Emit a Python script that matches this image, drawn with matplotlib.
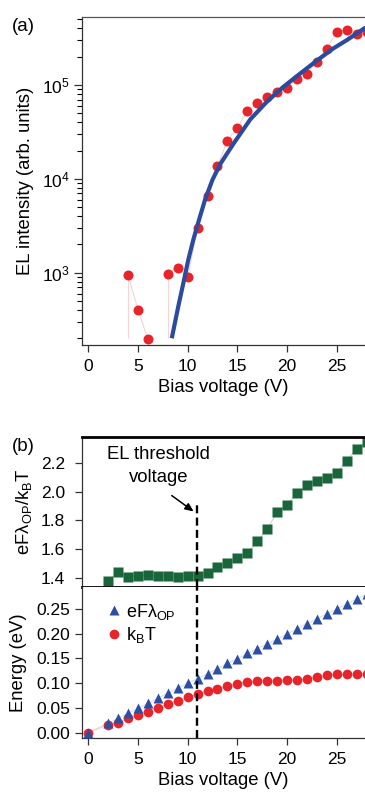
import matplotlib
matplotlib.use("Agg")
import matplotlib.pyplot as plt
import numpy as np

plt.rcParams["font.family"] = ["Liberation Sans", "DejaVu Sans"]
plt.rcParams["mathtext.fontset"] = "custom"
plt.rcParams["mathtext.rm"] = "Liberation Sans"
plt.rcParams["mathtext.it"] = "Liberation Sans:italic"
plt.rcParams["axes.linewidth"] = 0.9
plt.rcParams["axes.edgecolor"] = "#333333"

# ---- panel (a): EL intensity vs bias (NaN = no positive signal)
volt_a = [3, 4, 5, 6, 7, 8, 9, 10, 11, 12, 13, 14, 15, 16, 17, 18, 19, 20,
          21, 22, 23, 24, 25, 26, 27, 28]
el_int = [np.nan, 950, 405, 195, np.nan, 980, 1130, 890, 3000, 6600, 13700,
          25600, 34700, 52700, 64100, 73800, 83500, 93600, 117000, 132000,
          175000, 244000, 371000, 387000, 352000, 369000]
fit_v = [8.4, 9.05, 9.56, 10.06, 10.56, 11.14, 11.74, 12.5, 13.3, 14.6,
         16.3, 17.95, 19.6, 21.3, 23.0, 24.65, 26.0, 27.9]
fit_el = [200, 435, 770, 1370, 2230, 3650, 5960, 9800, 14500, 23600,
          43000, 66000, 95000, 132000, 182000, 245000, 300000, 410000]

# ---- panel (b)
volt_b = [0, 2, 3, 4, 5, 6, 7, 8, 9, 10, 11, 12, 13, 14, 15, 16, 17, 18, 19,
          20, 21, 22, 23, 24, 25, 26, 27, 28]
e_field = [0.0, 0.019, 0.029, 0.039, 0.049, 0.059, 0.0696, 0.0798, 0.0899,
           0.100, 0.109, 0.119, 0.1296, 0.140, 0.149, 0.160, 0.170, 0.179,
           0.189, 0.199, 0.210, 0.220, 0.230, 0.240, 0.250, 0.260, 0.270, 0.280]
k_t = [0.0, 0.0156, 0.020, 0.029, 0.036, 0.0425, 0.0506, 0.058, 0.065,
       0.0716, 0.078, 0.085, 0.089, 0.0945, 0.0985, 0.1026, 0.1046, 0.105,
       0.104, 0.106, 0.1067, 0.1087, 0.112, 0.116, 0.118, 0.118, 0.118, 0.119]
volt_r = volt_b[1:]
ratio = [1.381, 1.445, 1.411, 1.418, 1.425, 1.414, 1.418, 1.409, 1.418,
         1.418, 1.439, 1.478, 1.503, 1.540, 1.575, 1.655, 1.742, 1.855,
         1.910, 1.989, 2.044, 2.074, 2.092, 2.131, 2.214, 2.297, 2.345]
threshold_v = 10.95

RED = "#e8242b"
BLUE = "#2d4fa3"
GREEN = "#18663a"
XLIM = (-0.63, 27.84)
DROP_FLOOR = 200
FS = 12.5      # tick labels
LFS = 13.3     # axis labels and texts

fig = plt.figure(figsize=(3.65, 7.94), dpi=100)
ax_a = fig.add_axes([0.2247, 0.5655, 0.7753, 0.4131])
ax_r = fig.add_axes([0.2247, 0.2611, 0.7753, 0.1889])
ax_e = fig.add_axes([0.2247, 0.0702, 0.7753, 0.1909])

for ax in (ax_a, ax_r, ax_e):
    ax.set_xlim(*XLIM)
    ax.spines["right"].set_visible(False)
    ax.tick_params(direction="out", labelsize=FS, width=0.9, color="#333333")

# (a)
va = np.asarray(volt_a, float)
ea = np.asarray(el_int, float)
ax_a.plot(va, ea, color="#f7d3d3", lw=0.8, zorder=1)
for i in range(1, len(va)):
    if np.isnan(ea[i - 1]) and not np.isnan(ea[i]):
        ax_a.vlines(va[i], DROP_FLOOR, ea[i], color="#f7d3d3", lw=0.8, zorder=1)
ax_a.plot(va, ea, "o", color=RED, ms=7.2, mec="none", zorder=2)
ax_a.plot(fit_v, fit_el, color="#2c4b9c", lw=3.0, zorder=3,
          solid_capstyle="butt")
ax_a.set_yscale("log")
ax_a.set_ylim(169.7, 5.3e5)
ax_a.set_xticks([0, 5, 10, 15, 20, 25])
ax_a.tick_params(axis="both", which="major", length=5)
ax_a.tick_params(axis="y", which="major", length=6)
ax_a.tick_params(axis="y", which="minor", length=3.5, width=0.8)
ax_a.tick_params(axis="y", which="major", pad=3)
ax_a.tick_params(axis="x", pad=5)
ax_a.set_ylabel("EL intensity (arb. units)", fontsize=LFS)
ax_a.yaxis.set_label_coords(-0.17, 0.5)
ax_a.set_xlabel("Bias voltage (V)", fontsize=LFS)
ax_a.xaxis.set_label_coords(0.5, -0.105)
ax_a.spines["top"].set_color("#555555")

# (b) ratio
ax_r.plot(volt_r, ratio, color="#c9dccf", lw=0.8, zorder=1)
ax_r.plot(volt_r, ratio, "s", color=GREEN, ms=6.6, mec="none", zorder=2)
ax_r.set_ylim(1.342, 2.379)
ax_r.set_yticks([1.4, 1.6, 1.8, 2.0, 2.2])
ax_r.yaxis.set_major_formatter(plt.FormatStrFormatter("%.1f"))
ax_r.tick_params(axis="y", length=5, pad=7)
ax_r.tick_params(axis="x", bottom=False, labelbottom=False)
ax_r.spines["top"].set_linewidth(2.0)
ax_r.spines["top"].set_color("black")
ax_r.spines["bottom"].set_linewidth(2.0)
ax_r.spines["bottom"].set_color("black")
ylo, yhi = ax_r.get_ylim()
ax_r.axvline(threshold_v, ymin=0, ymax=(1.92 - ylo) / (yhi - ylo), color="black",
             lw=1.7, dashes=(3.4, 1.8), zorder=3)
ax_r.annotate("", xy=(10.6, 1.862), xytext=(8.4, 1.972),
              arrowprops=dict(arrowstyle="-|>,head_length=0.5,head_width=0.22",
                              color="black", lw=1.1, shrinkA=0, shrinkB=0))
ax_r.text(7.1, 2.253, "EL threshold", ha="center", va="center", fontsize=LFS)
ax_r.text(7.1, 2.094, "voltage", ha="center", va="center", fontsize=LFS)
ax_r.set_ylabel(r"eFλ$_\mathregular{OP}$/k$_\mathregular{B}$T", fontsize=LFS)
ax_r.yaxis.set_label_coords(-0.17, 0.5)

# (b) energies
ax_e.plot(volt_b, e_field, color="#d8def0", lw=0.8, zorder=1)
ax_e.plot(volt_b, k_t, color="#f4d0d0", lw=0.8, zorder=1)
ax_e.plot(volt_b, k_t, "o", color=RED, ms=7.0, mec="none", zorder=2,
          label=r"k$_\mathregular{B}$T")
ax_e.plot(volt_b, e_field, "^", color=BLUE, ms=7.0, mec="none", zorder=3,
          label=r"eFλ$_\mathregular{OP}$")
ax_e.axvline(threshold_v, color="black", lw=1.7, dashes=(3.4, 1.8), zorder=4)
ax_e.set_ylim(-0.0113, 0.295)
ax_e.set_yticks([0.0, 0.05, 0.10, 0.15, 0.20, 0.25])
ax_e.yaxis.set_major_formatter(plt.FormatStrFormatter("%.2f"))
ax_e.set_xticks([0, 5, 10, 15, 20, 25])
ax_e.tick_params(axis="both", length=5)
ax_e.tick_params(axis="y", pad=3.5)
ax_e.tick_params(axis="x", pad=5)
ax_e.spines["top"].set_visible(False)
ax_e.set_ylabel("Energy (eV)", fontsize=LFS)
ax_e.yaxis.set_label_coords(-0.195, 0.5)
ax_e.set_xlabel("Bias voltage (V)", fontsize=LFS)
ax_e.xaxis.set_label_coords(0.5, -0.225)
handles, labels = ax_e.get_legend_handles_labels()
ax_e.legend(handles[::-1], labels[::-1], loc="upper left",
            bbox_to_anchor=(0.07, 0.925), borderaxespad=0, frameon=False,
            fontsize=13, handlelength=1.0, handletextpad=0.15, borderpad=0.2,
            labelspacing=0.2, numpoints=1)

fig.text(23 / 365, 1 - 26.7 / 794, "(a)", ha="center", va="center", fontsize=13.5)
fig.text(23 / 365, 1 - 446.7 / 794, "(b)", ha="center", va="center", fontsize=13.5)

fig.savefig("out.png", dpi=100, facecolor="white")
